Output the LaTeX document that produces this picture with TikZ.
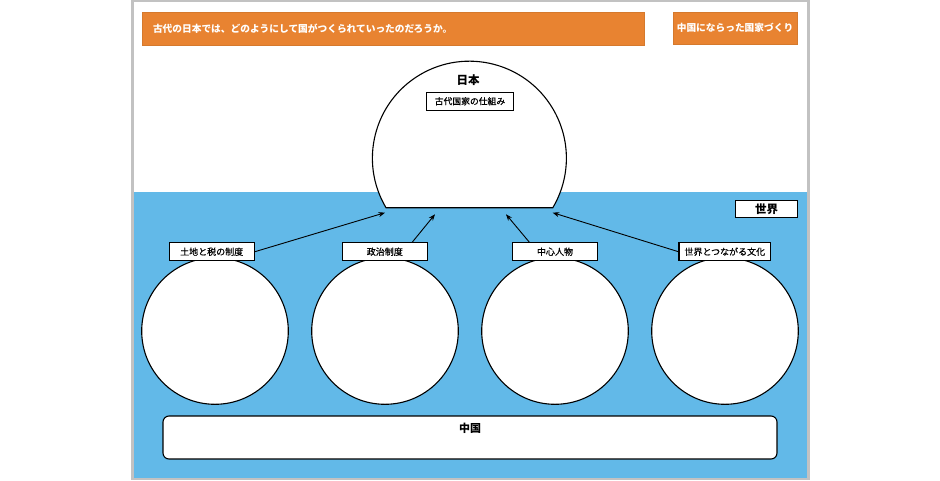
\documentclass[tikz,border=0pt]{standalone}
\usepackage{fontspec}
\setmainfont{Noto Sans CJK JP}
\newfontfamily\jpmed{Noto Sans CJK JP}[FakeBold=0.6]
\usetikzlibrary{arrows.meta,calc}
\definecolor{orng}{RGB}{232,131,49}
\definecolor{sea}{RGB}{98,185,232}
\definecolor{framegray}{RGB}{194,194,194}
\begin{document}
\begin{tikzpicture}[x=1pt,y=-1pt,
  banner/.style={fill=orng, draw=orng!92!black, line width=0.6pt, text=white, inner sep=0pt,
    font=\fontsize{9.7pt}{11pt}\selectfont\bfseries},
  tag/.style={draw=black, fill=white, line width=1.1pt, inner sep=0pt, minimum height=18pt,
    font=\fontsize{9pt}{10pt}\selectfont\jpmed},
  bigcircle/.style={circle, draw=black, fill=white, line width=1.1pt, minimum size=146.6pt, inner sep=0pt},
  conn/.style={line width=0.9pt, -{Stealth[length=6.5pt,width=5pt]}},
  head/.style={font=\fontsize{11.5pt}{13pt}\selectfont\bfseries}
]
\useasboundingbox (0,0) rectangle (940,480);
\fill[white] (0,0) rectangle (940,480);
% sea
\fill[sea] (133,192) rectangle (808,478);
% frame
\draw[framegray, line width=2.4pt] (132.3,1.2) rectangle (808.3,478.8);

% banners
\node[banner, minimum width=502pt, minimum height=33pt, text width=480pt, align=left, inner xsep=11pt]
  (q) at (393,28.5) {古代の日本では、どのようにして国がつくられていったのだろうか。};
\node[banner, minimum width=124pt, minimum height=32pt] (t) at (735,28) {中国にならった国家づくり};

% Japan dome
\coordinate (jp) at (469.7,158);
\draw[fill=white, line width=1.1pt] (386,207.7) arc[start angle=210.7, end angle=-30.7, radius=97pt] -- cycle;
\node[head] (jpt) at (468,80) {日本};
\node[tag, minimum width=86.6pt, minimum height=17.7pt, font=\fontsize{8.8pt}{10pt}\selectfont\jpmed] (sys) at (470,101.2) {古代国家の仕組み};

% world label
\node[tag, minimum width=61.6pt, minimum height=16.6pt, font=\fontsize{11.5pt}{13pt}\selectfont\bfseries] (w) at (766.5,209) {世界};

% circles
\node[bigcircle] (c1) at (215,331) {};
\node[bigcircle] (c2) at (385,331) {};
\node[bigcircle] (c3) at (555,331) {};
\node[bigcircle] (c4) at (725,331) {};

% labels
\node[tag, minimum width=85.3pt] (l1) at (211.7,251.7) {土地と税の制度};
\node[tag, minimum width=85pt] (l2) at (384.8,251.7) {政治制度};
\node[tag, minimum width=85.4pt] (l3) at (555,251.7) {中心人物};
\node[tag, minimum width=91.7pt] (l4) at (724.8,251.7) {世界とつながる文化};

% arrow targets
\coordinate (t1) at (385,212.7);
\coordinate (t2) at (435,214.3);
\coordinate (t3) at (506,214.3);
\coordinate (t4) at (552.7,212.7);

\draw[conn] (l1.east) -- (t1);
\draw[conn] ($(l2.north)+(27.5,0)$) -- (t2);
\draw[conn] ($(l3.north)+(-25.7,0)$) -- (t3);
\draw[conn] (l4.west) -- (t4);

% China
\node[draw=black, fill=white, line width=1.1pt, rounded corners=6pt, minimum width=614pt, minimum height=43pt, inner sep=0pt] (cn) at (470,437.5) {};
\node[font=\fontsize{11pt}{13pt}\selectfont\bfseries] (cnt) at (470,428.3) {中国};
\end{tikzpicture}
\end{document}
